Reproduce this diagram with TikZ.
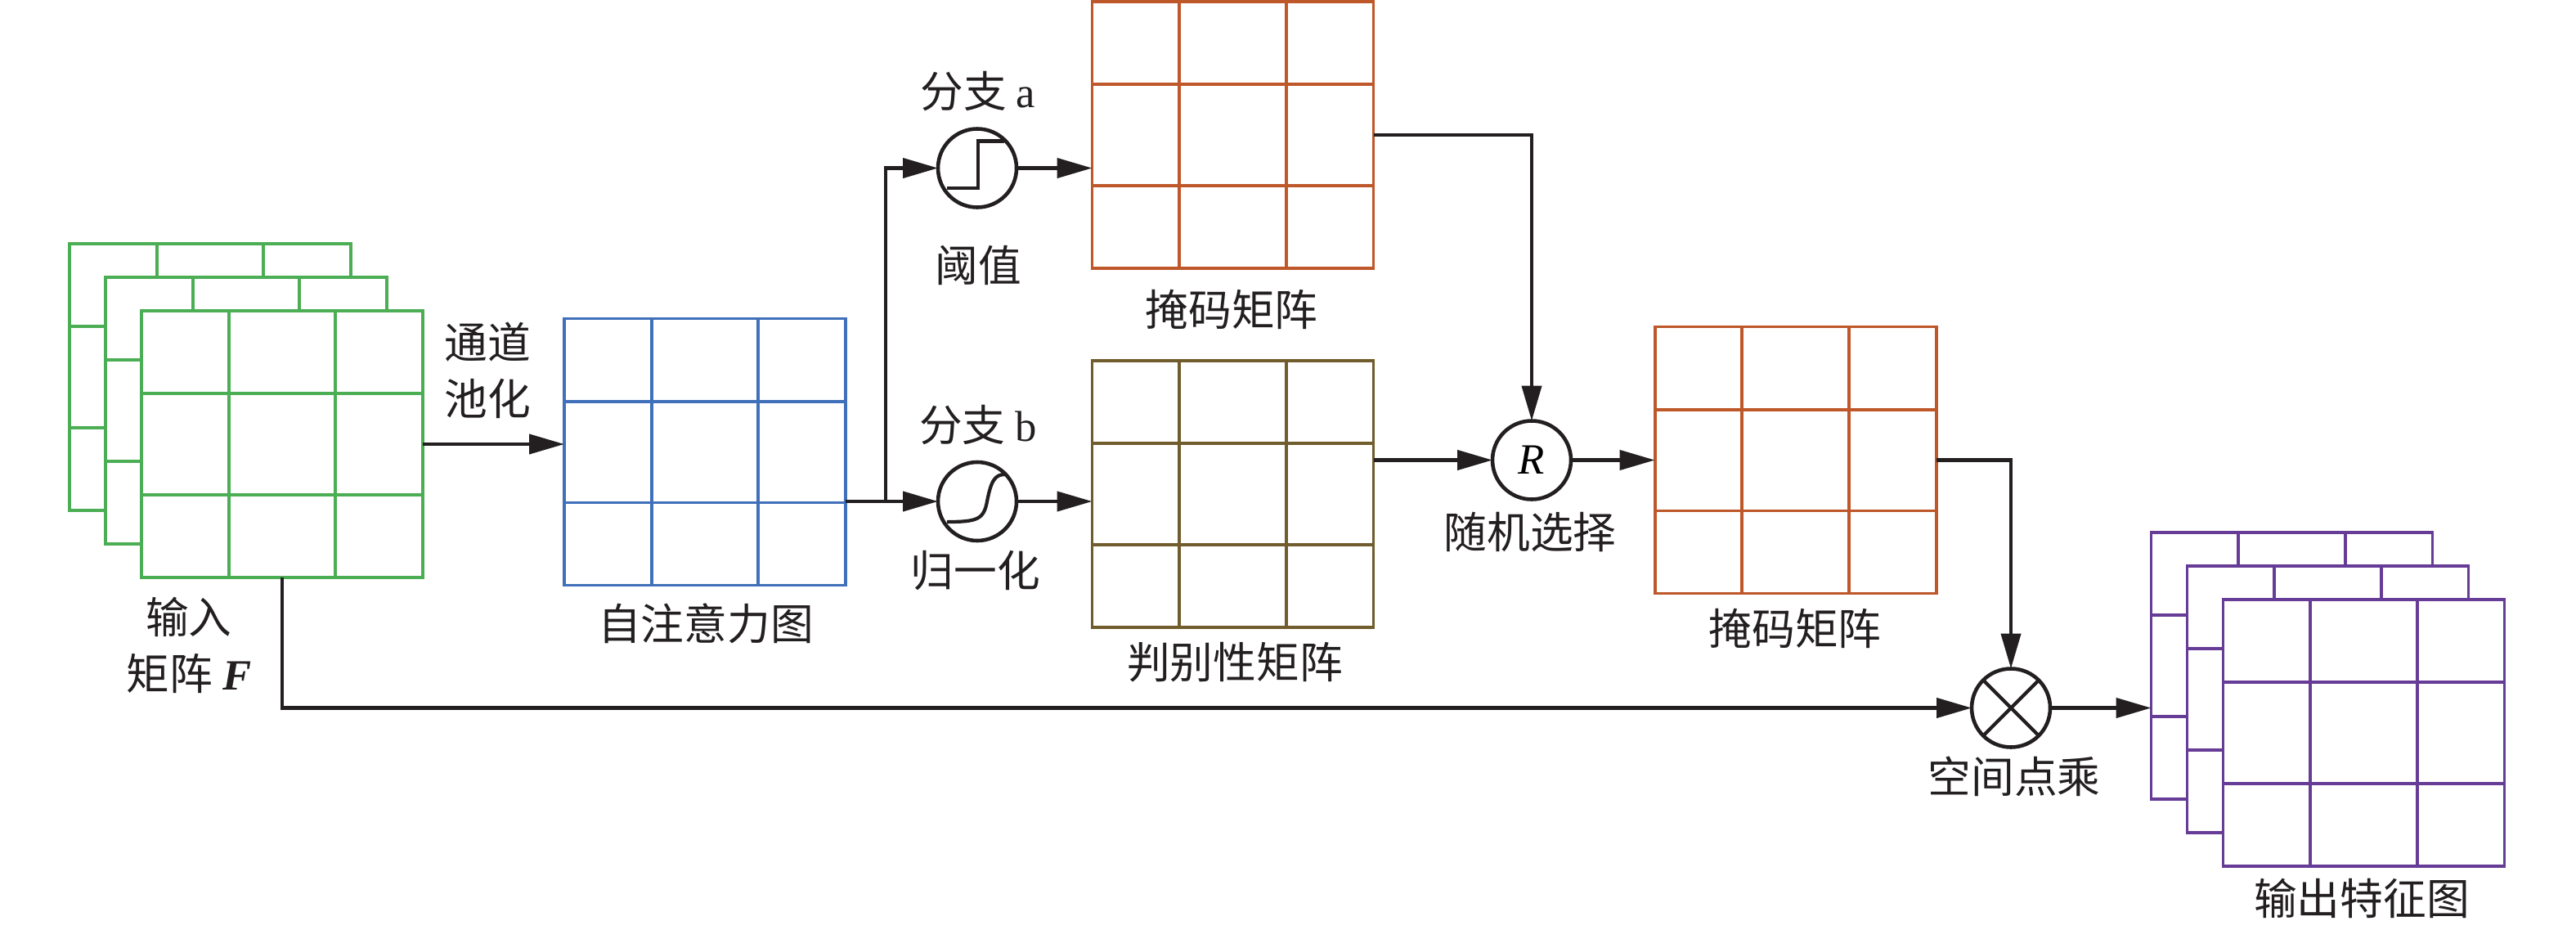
\documentclass[tikz,border=0pt]{standalone}
\usepackage{fontspec}
\setmainfont{Liberation Serif}
\newfontfamily\cjk{Noto Sans CJK SC}
\usepackage{xcolor}
\usepackage{tikz}
\usetikzlibrary{arrows.meta,calc}
\definecolor{VerdeEntrada}{RGB}{76,174,84}
\definecolor{AzulAtencion}{RGB}{64,112,186}
\definecolor{NaranjaMascara}{RGB}{190,88,42}
\definecolor{OlivaMatriz}{RGB}{112,92,45}
\definecolor{MoradoSalida}{RGB}{102,60,150}
\definecolor{Tinta}{RGB}{35,31,32}
\tikzset{
  celda/.style={rectangle,fill=white,line width=1.1pt,minimum width=3.44cm,minimum height=3.26cm,inner sep=0pt,outer sep=0pt},
  operador/.style={circle,draw=Tinta,fill=white,line width=1.3pt,minimum size=0.96cm,inner sep=0pt,outer sep=0pt},
  flujo/.style={draw=Tinta,line width=1.2pt},
  rotulo/.style={text=Tinta,font=\cjk\fontsize{15}{19.6}\selectfont,align=center,inner sep=0pt}
}
\newcommand{\malla}[3]{%
  \node[celda,draw=#2] (#1) at (#3) {};
  \foreach \f in {0.31,0.69}{
    \draw[#2,line width=1.1pt] ($(#1.south west)!\f!(#1.south east)$) -- ($(#1.north west)!\f!(#1.north east)$);
    \draw[#2,line width=1.1pt] ($(#1.south west)!\f!(#1.north west)$) -- ($(#1.south east)!\f!(#1.north east)$);
  }}
\begin{document}
\begin{tikzpicture}[>={Triangle[length=4.3mm,width=2.4mm]},scale=1.0]
  \useasboundingbox (0,0) rectangle (31.5,11.36);
  \malla{entC}{VerdeEntrada}{2.57,6.75}
  \malla{entB}{VerdeEntrada}{3.01,6.34}
  \malla{entA}{VerdeEntrada}{3.45,5.93}
  \malla{aten}{AzulAtencion}{8.62,5.835}
  \malla{mascA}{NaranjaMascara}{15.075,9.707}
  \malla{disc}{OlivaMatriz}{15.075,5.32}
  \malla{mascB}{NaranjaMascara}{21.956,5.735}
  \malla{salC}{MoradoSalida}{28.025,3.22}
  \malla{salB}{MoradoSalida}{28.465,2.81}
  \malla{salA}{MoradoSalida}{28.905,2.40}
  \node[operador] (umbral) at (11.95,9.305) {};
  \node[operador] (norma) at (11.95,5.23) {};
  \node[operador,font=\fontsize{15}{18}\selectfont] (azar) at (18.73,5.735) {\textit{R}};
  \node[operador] (prod) at (24.59,2.705) {};
  \coordinate (rama) at (10.83,5.23);
  \draw[Tinta,line width=1.2pt,shift={(umbral.center)}] (-0.37,-0.245) -- (0.01,-0.245) -- (0.01,0.33) -- (0.33,0.33);
  \draw[Tinta,line width=1.2pt,shift={(norma.center)}] (-0.37,-0.25) .. controls (0.0,-0.25) and (0.08,-0.22) .. (0.12,0.0) .. controls (0.17,0.26) and (0.22,0.33) .. (0.34,0.33);
  \draw[Tinta,line width=1.2pt] (prod.north west) -- (prod.south east) (prod.north east) -- (prod.south west);
  \draw[flujo,->] (entA.east) -- (entA.east -| aten.west);
  \draw[flujo,->] (aten.east |- norma) -- (norma.west);
  \draw[flujo,->] (rama) |- (umbral.west);
  \draw[flujo,->] (umbral.east) -- (umbral.east -| mascA.west);
  \draw[flujo,->] (norma.east) -- (norma.east -| disc.west);
  \draw[flujo,->] (mascA.east) -| (azar.north);
  \draw[flujo,->] (disc.east |- azar) -- (azar.west);
  \draw[flujo,->] (azar.east) -- (mascB.west);
  \draw[flujo,->] (mascB.east) -| (prod.north);
  \draw[flujo,->] (entA.south) |- (prod.west);
  \draw[flujo,->] (prod.east) -- (prod.east -| salC.west);
  \node[rotulo] (tPool) at (5.96,6.835) {通道\\池化};
  \node[rotulo] (tEnt) at (2.31,3.47) {输入\\矩阵 \textrm{\textbf{\textit{F}}}};
  \node[rotulo] (tAten) at (8.63,3.74) {自注意力图};
  \node[rotulo] (tRamaA) at (11.96,10.24) {分支 \textrm{a}};
  \node[rotulo] (tUmbral) at (11.96,8.12) {阈值};
  \node[rotulo] (tRamaB) at (11.96,6.16) {分支 \textrm{b}};
  \node[rotulo] (tNorma) at (11.93,4.38) {归一化};
  \node[rotulo] (tMascA) at (15.06,7.58) {掩码矩阵};
  \node[rotulo] (tDisc) at (15.1,3.26) {判别性矩阵};
  \node[rotulo] (tAzar) at (18.71,4.86) {随机选择};
  \node[rotulo] (tMascB) at (21.95,3.68) {掩码矩阵};
  \node[rotulo] (tProd) at (24.63,1.87) {空间点乘};
  \node[rotulo] (tSal) at (28.88,0.38) {输出特征图};
\end{tikzpicture}
\end{document}
